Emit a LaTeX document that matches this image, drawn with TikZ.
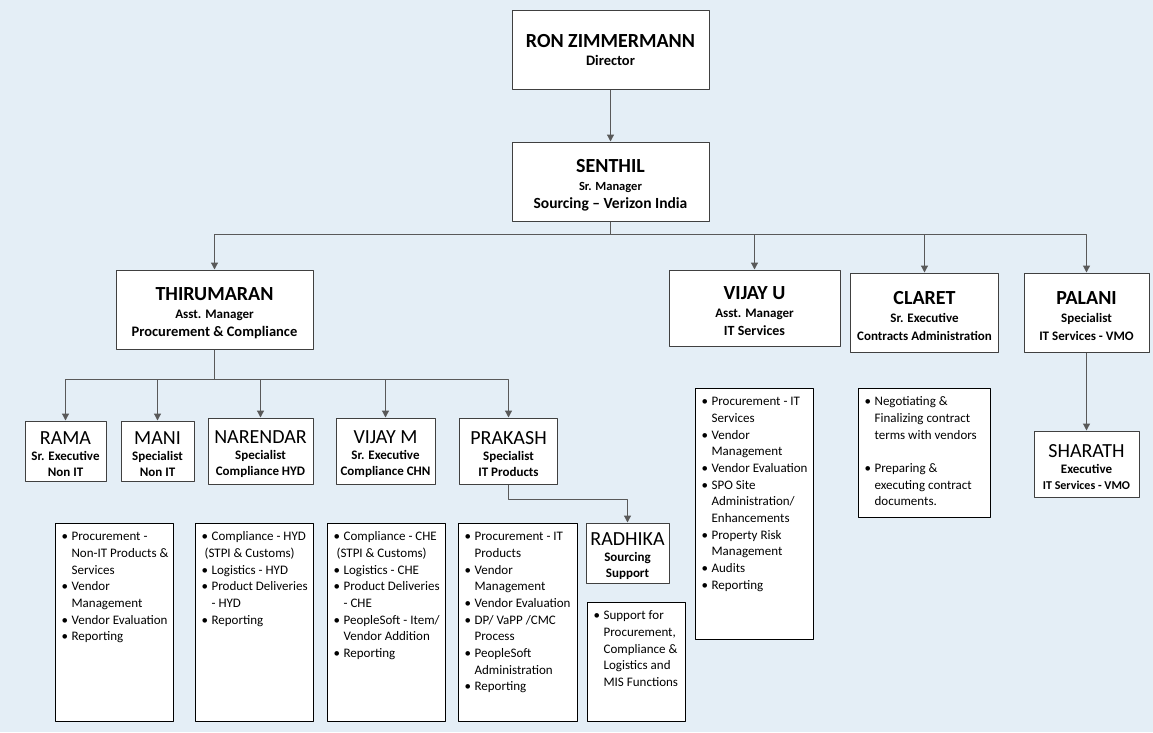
\documentclass[tikz,border=0pt]{standalone}
\usepackage{fontspec}
\setmainfont{Carlito}
\usetikzlibrary{arrows.meta}
\definecolor{bgblue}{RGB}{228,238,246}
\definecolor{boxgray}{RGB}{64,64,64}
\definecolor{arrgray}{RGB}{89,89,89}
\newcommand\hname[1]{{\fontsize{20}{18}\selectfont\bfseries\rule{0pt}{20pt}#1}}
\newcommand\sname[1]{{\fontsize{20}{16}\selectfont\mdseries\rule{0pt}{20pt}#1}}
\newcommand\bitem{\par\noindent\hspace*{6pt}\makebox[10pt][l]{\textbullet}}
\newcommand\topitem{\bitem\rule{0pt}{17pt}}
\newcommand\bcont{\par\noindent\hspace*{16pt}}
\newcommand\bflush{\par\noindent\hspace*{9pt}}
\newcommand\duties[3]{\parbox[t][#2][t]{#1}{\fontsize{13}{16.7}\selectfont #3}}
\begin{document}
\begin{tikzpicture}[x=1pt,y=-1pt,>={Triangle[length=7pt,width=7pt]},line join=round,
  headbox/.style={draw=boxgray,line width=1pt,fill=white,align=center,inner sep=0pt,font=\fontsize{13}{18}\selectfont\bfseries},
  smallbox/.style={headbox,font=\fontsize{13}{16}\selectfont\bfseries},
  dutybox/.style={draw=black,line width=1.2pt,fill=white,inner sep=0pt,anchor=north west},
  feed/.style={->,draw=arrgray,line width=1.2pt}]
\fill[bgblue] (0,0) rectangle (1153,732);
\useasboundingbox (0,0) rectangle (1153,732);

\node[headbox,minimum width=197pt,minimum height=79pt] (ron) at (610.5,49.5)
  {{\fontsize{20}{18}\selectfont RON ZIMMERMANN}\\{\fontsize{14.5}{18}\selectfont Director}};
\node[headbox,minimum width=197pt,minimum height=79pt] (senthil) at (610.5,181.5)
  {\hname{SENTHIL}\\{\fontsize{12.5}{18}\selectfont Sr. Manager}\\{\fontsize{15.5}{18}\selectfont Sourcing -- Verizon India}};
\node[headbox,minimum width=197pt,minimum height=79pt] (thiru) at (214.5,309.5)
  {\hname{THIRUMARAN}\\Asst. Manager\\{\fontsize{14.5}{18}\selectfont Procurement \& Compliance}};
\node[headbox,minimum width=171pt,minimum height=76pt] (vijayu) at (754.5,308)
  {\hname{VIJAY U}\\Asst. Manager\\{\fontsize{14}{18}\selectfont IT Services}};
\node[headbox,minimum width=148pt,minimum height=79pt] (claret) at (924.5,312.5)
  {\hname{CLARET}\\Sr. Executive\\Contracts Administration};
\node[headbox,minimum width=125pt,minimum height=79pt] (palani) at (1086.5,312.5)
  {\hname{PALANI}\\Specialist\\IT Services - VMO};

\node[smallbox,minimum width=81pt,minimum height=60pt] (rama) at (65.5,451)
  {\sname{RAMA}\\Sr. Executive\\Non IT};
\node[smallbox,minimum width=73pt,minimum height=60pt] (mani) at (157.5,451)
  {\sname{MANI}\\Specialist\\Non IT};
\node[smallbox,minimum width=105pt,minimum height=66pt] (narendar) at (260.5,451)
  {\sname{NARENDAR}\\Specialist\\Compliance HYD};
\node[smallbox,minimum width=99pt,minimum height=66pt] (vijaym) at (385.5,451)
  {\sname{VIJAY M}\\Sr. Executive\\Compliance CHN};
\node[smallbox,minimum width=98pt,minimum height=66pt] (prakash) at (508.5,451)
  {\sname{PRAKASH}\\Specialist\\IT Products};
\node[smallbox,minimum width=83pt,minimum height=60pt] (radhika) at (627.5,553)
  {\sname{RADHIKA}\\Sourcing\\Support};
\node[smallbox,minimum width=105pt,minimum height=66pt] (sharath) at (1086.5,464)
  {\sname{SHARATH}\\Executive\\{\fontsize{12}{16}\selectfont IT Services - VMO}};

\draw[feed] (ron) -- (senthil);
\foreach \t in {thiru,vijayu,claret,palani}
  \draw[feed] (senthil.south) -- ++(0,13) -| (\t);
\foreach \t in {rama,mani,narendar,vijaym,prakash}
  \draw[feed] (thiru.south) -- ++(0,30) -| (\t);
\draw[feed] (prakash.south) -- ++(0,15) -| (radhika);
\draw[feed] (palani) -- (sharath);

\node[dutybox] (ramaduty) at (55,523) {\duties{118pt}{198pt}{%
  \topitem Procurement -
  \bcont Non-IT Products \&
  \bcont Services
  \bitem Vendor
  \bcont Management
  \bitem Vendor Evaluation
  \bitem Reporting}};
\node[dutybox] (narduty) at (195,523) {\duties{118pt}{198pt}{%
  \topitem Compliance - HYD
  \bflush (STPI \& Customs)
  \bitem Logistics - HYD
  \bitem Product Deliveries
  \bcont - HYD
  \bitem Reporting}};
\node[dutybox] (vijmduty) at (327,523) {\duties{118pt}{198pt}{%
  \topitem Compliance - CHE
  \bflush (STPI \& Customs)
  \bitem Logistics - CHE
  \bitem Product Deliveries
  \bcont - CHE
  \bitem PeopleSoft - Item/
  \bcont Vendor Addition
  \bitem Reporting}};
\node[dutybox] (prakduty) at (458,523) {\duties{119pt}{198pt}{%
  \topitem Procurement - IT
  \bcont Products
  \bitem Vendor
  \bcont Management
  \bitem Vendor Evaluation
  \bitem DP/ VaPP /CMC
  \bcont Process
  \bitem PeopleSoft
  \bcont Administration
  \bitem Reporting}};
\node[dutybox] (radduty) at (587,602) {\duties{98pt}{119pt}{%
  \topitem Support for
  \bcont Procurement,
  \bcont Compliance \&
  \bcont Logistics and
  \bcont MIS Functions}};
\node[dutybox] (vijuduty) at (695,388) {\duties{118pt}{251pt}{%
  \topitem Procurement - IT
  \bcont Services
  \bitem Vendor
  \bcont Management
  \bitem Vendor Evaluation
  \bitem SPO Site
  \bcont Administration/
  \bcont Enhancements
  \bitem Property Risk
  \bcont Management
  \bitem Audits
  \bitem Reporting}};
\node[dutybox] (claretduty) at (858,388) {\duties{132pt}{129pt}{%
  \topitem Negotiating \&
  \bcont Finalizing contract
  \bcont terms with vendors
  \bcont\mbox{}
  \bitem Preparing \&
  \bcont executing contract
  \bcont documents.}};
\end{tikzpicture}
\end{document}
